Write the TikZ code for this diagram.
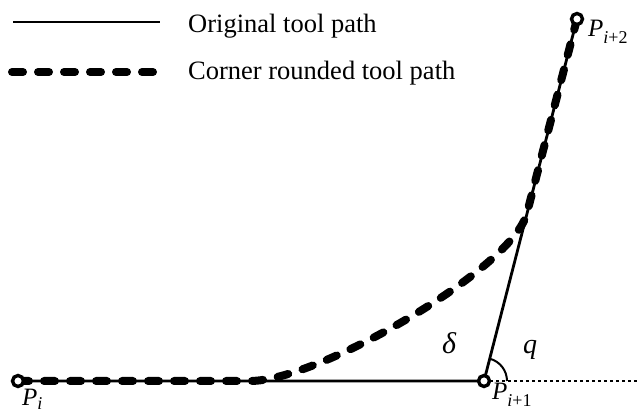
\documentclass[tikz,border=0pt]{standalone}
\usepackage{fontspec}
\setmainfont{Liberation Serif}
\usetikzlibrary{positioning}
\newcommand{\ptsub}[2][-7pt]{\raisebox{#1}{\fontsize{18}{20}\selectfont #2}}
\tikzset{
  orig/.style   = {line width=2.8pt, line join=round},
  corner/.style = {line width=8pt, line cap=round, dash pattern=on 11pt off 15pt},
  ext/.style    = {line width=2pt, dash pattern=on 3pt off 3pt},
  angarc/.style = {line width=2pt},
  pt/.style     = {circle, draw, fill=white, line width=3.4pt, minimum size=11pt,
                   inner sep=0pt},
  lbl/.style    = {font=\fontsize{25}{28}\selectfont\itshape, inner sep=0pt,
                   anchor=base west},
  legtext/.style = {font=\fontsize{26.5}{30}\selectfont, anchor=base west,
                    inner sep=0pt},
}
\begin{document}
\begin{tikzpicture}[x=1pt, y=1pt]
  \useasboundingbox (0,0) rectangle (640,414);

  %% legend
  \coordinate (origA) at (13,392);
  \coordinate (origB) at (160,392);
  \draw[orig] (origA) -- (origB);
  \node[legtext] (origtxt) at (188,381) {Original tool path};

  \coordinate (cornA) at (12,342);
  \coordinate (cornB) at (154,342);
  \draw[corner] (cornA) -- (cornB);
  \node[legtext] (corntxt) at (188,334) {Corner rounded tool path};

  %% the corner
  \coordinate (Pi) at (18,33);
  \coordinate (Pj) at (484,33);
  \coordinate (Pk) at (577,395);
  \coordinate (rndA) at (250,33);
  \coordinate (rndB) at (527,201);
  \coordinate (far) at (640,33);

  \draw[ext] (Pj) -- (far);
  \draw[orig] (Pi) -- (Pj) -- (Pk);
  \draw[corner] (Pi) -- (rndA) .. controls (318,33) and (513,145) .. (rndB) -- (Pk);
  \draw[angarc] (Pj) ++(23,0) arc[start angle=0, end angle=75.6, radius=23];

  \node[pt] (ptI) at (Pi) {};
  \node[pt] (ptJ) at (Pj) {};
  \node[pt] (ptK) at (Pk) {};

  %% labels
  \node[lbl] (labI) at (22,8) {P\ptsub[-4pt]{\itshape i}};
  \node[lbl] (labJ) at (492,14) {P\ptsub{\itshape i\upshape +1}};
  \node[lbl] (labK) at (588,377) {P\ptsub{\itshape i\upshape +2}};
  \node[lbl, font=\fontsize{30}{32}\selectfont\itshape] (delta) at (442,60) {δ};
  \node[lbl, font=\fontsize{28}{30}\selectfont\itshape] (angq) at (523,60) {q};

\end{tikzpicture}
\end{document}
